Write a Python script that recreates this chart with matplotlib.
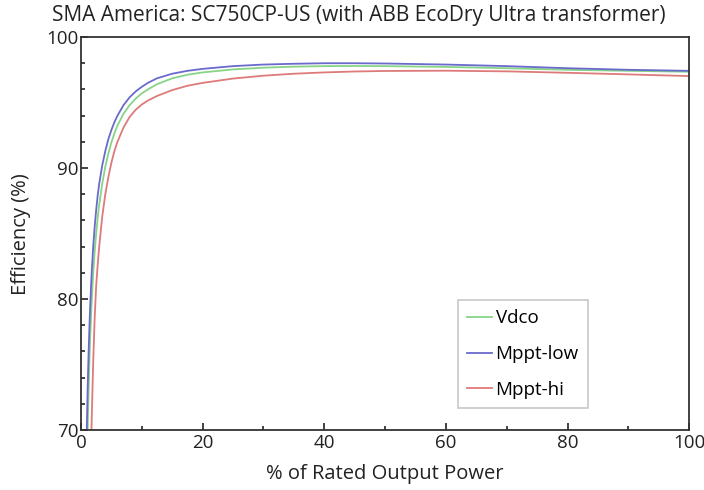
import matplotlib
matplotlib.use('Agg')
import matplotlib.pyplot as plt
from matplotlib.ticker import MultipleLocator

# % of rated output power
power = [0.9, 1.0, 1.1, 1.25, 1.35, 1.5, 1.75, 2.0, 2.25, 2.5, 2.75, 3.0, 3.5, 4.0, 4.5,
         5.0, 5.5, 6.0, 7.0, 8.0, 9.0, 10.0, 11.0, 12.5, 15.0, 17.5, 20.0, 25.0, 30.0,
         35.0, 40.0, 45.0, 50.0, 60.0, 70.0, 80.0, 90.0, 100.0]

# efficiency (%) per curve
vdco = [64.5, 67.5, 70.0, 73.0, 74.7, 76.9, 79.7, 81.9, 83.6, 85.0, 86.2, 87.2, 88.8, 90.1, 91.1,
        91.95, 92.65, 93.25, 94.15, 94.8, 95.3, 95.7, 96.0, 96.4, 96.85, 97.12, 97.3, 97.53, 97.66,
        97.74, 97.78, 97.79, 97.78, 97.72, 97.62, 97.5, 97.42, 97.35]
mppt_low = [68.5, 71.0, 73.2, 75.8, 77.3, 79.3, 81.9, 83.9, 85.5, 86.8, 87.9, 88.8, 90.2, 91.3, 92.2,
            92.9, 93.5, 94.0, 94.8, 95.4, 95.85, 96.2, 96.5, 96.85, 97.2, 97.42, 97.57, 97.78, 97.9,
            97.96, 98.0, 98.0, 97.98, 97.9, 97.78, 97.62, 97.5, 97.42]
mppt_hi = [45.0, 50.0, 54.0, 58.5, 61.5, 65.0, 70.5, 75.0, 78.5, 81.0, 82.6, 84.0, 86.3, 88.0, 89.3,
           90.4, 91.3, 92.0, 93.1, 93.9, 94.45, 94.85, 95.15, 95.5, 95.95, 96.28, 96.5, 96.83, 97.05,
           97.2, 97.3, 97.37, 97.41, 97.43, 97.38, 97.27, 97.15, 97.02]

plt.rcParams['font.family'] = ['Open Sans', 'DejaVu Sans']
txt = '#222222'

fig = plt.figure(figsize=(7.04, 4.9), dpi=100)
ax = fig.add_axes([0.115, 0.1224, 0.864, 0.802])

ax.plot(power, vdco, color='#86d486', lw=1.3, label='Vdco')
ax.plot(power, mppt_low, color='#6a6acc', lw=1.3, label='Mppt-low')
ax.plot(power, mppt_hi, color='#de7a7a', lw=1.3, label='Mppt-hi')

ax.set_xlim(0, 100)
ax.set_ylim(70, 100)
ax.xaxis.set_major_locator(MultipleLocator(20))
ax.xaxis.set_minor_locator(MultipleLocator(10))
ax.yaxis.set_major_locator(MultipleLocator(10))
ax.yaxis.set_minor_locator(MultipleLocator(2))
ax.tick_params(which='both', direction='in', labelsize=13.5, colors=txt,
               top=False, right=False, pad=2)
ax.tick_params(axis='x', pad=3)
ax.tick_params(which='major', length=5, width=1.2)
ax.tick_params(which='minor', length=3, width=1.2)
for s in ax.spines.values():
    s.set_linewidth(1.3)
    s.set_color('#333333')

fig.text(385 / 704, 1 - 474 / 490, '% of Rated Output Power', fontsize=14.5, color=txt,
         ha='center', va='center')
fig.text(21 / 704, 1 - 234 / 490, 'Efficiency (%)', fontsize=14.5, color=txt,
         rotation=90, ha='center', va='center')
fig.text(52 / 704, 1 - 15 / 490, 'SMA America: SC750CP-US (with ABB EcoDry Ultra transformer)',
         fontsize=15, color=txt, va='center', ha='left')

leg = ax.legend(loc='upper left', bbox_to_anchor=(0.62, 0.331), fontsize=13.5,
                handlelength=1.3, handletextpad=0.2, borderpad=0.5, labelspacing=0.95,
                borderaxespad=0, fancybox=False, framealpha=1, edgecolor='#c8c8c8')
leg.get_frame().set_linewidth(1.2)

fig.savefig('out.png', dpi=100)
